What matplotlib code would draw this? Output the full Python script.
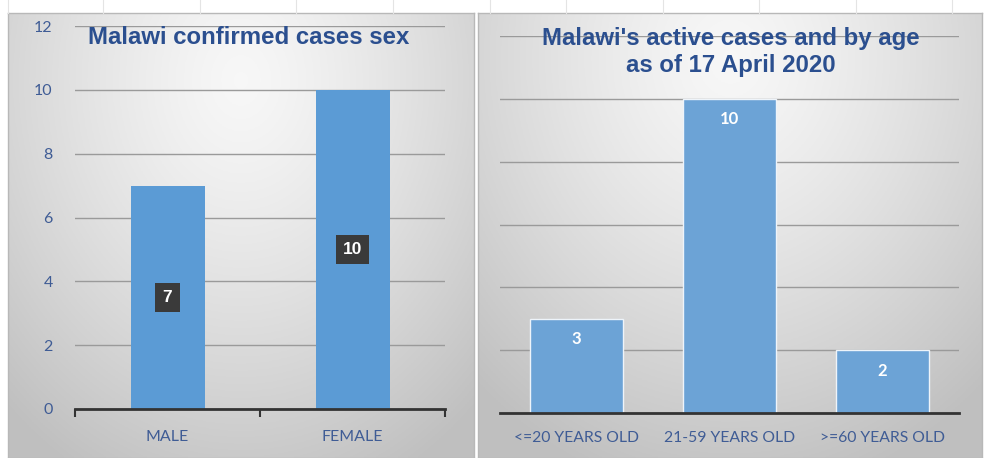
import matplotlib.pyplot as plt
import numpy as np

# data
sex_labels = ["MALE", "FEMALE"]
sex_cases = [7, 10]
age_labels = ["<=20 YEARS OLD", "21-59 YEARS OLD", ">=60 YEARS OLD"]
age_cases = [3, 10, 2]

title_left = "Malawi confirmed cases sex"
title_right = "Malawi's active cases and by age\nas of 17 April 2020"

W, H = 986, 458
title_color = "#2B4F8F"
tick_color = "#3F5C95"
bar_left = "#5B9BD5"
bar_right = "#6CA3D6"


def px_axes(fig, x0, y0, x1, y1, **kw):
    # pixel box (top-left origin) -> figure axes
    return fig.add_axes([x0 / W, (H - y1) / H, (x1 - x0) / W, (y1 - y0) / H], **kw)


def chart_background(fig, x0, y0, x1, y1, cx, cy):
    bg = px_axes(fig, x0, y0, x1, y1)
    ny, nx = 200, 200
    xx, yy = np.meshgrid(np.linspace(0, 1, nx), np.linspace(0, 1, ny))
    r = np.sqrt(((xx - cx) / 0.75) ** 2 + ((yy - cy) / 1.0) ** 2)
    r = np.clip(r, 0, 1)
    val = 0.97 - 0.22 * r ** 1.3
    img = np.dstack([val, val, val])
    bg.imshow(img, extent=[0, 1, 0, 1], origin="upper", aspect="auto", zorder=0)
    bg.set_xlim(0, 1)
    bg.set_ylim(0, 1)
    bg.set_xticks([])
    bg.set_yticks([])
    for s in bg.spines.values():
        s.set_color("#b8b8b8")
        s.set_linewidth(1)
    return bg


fig = plt.figure(figsize=(W / 100, H / 100), dpi=100)
fig.patch.set_facecolor("white")

# faint spreadsheet cells behind
for xc in [8, 103, 200, 296, 393, 490, 566, 663, 759, 856, 952]:
    fig.add_artist(plt.Line2D([xc / W, xc / W], [1, 1 - 13 / H], color="#e4e4e4", lw=0.8))

chart_background(fig, 8, 13, 474, 458, 0.5, 0.15)
chart_background(fig, 478, 13, 982, 458, 0.5, 0.1)

# ---- left chart ----
ax1 = px_axes(fig, 75, 26, 445, 409)
ax1.patch.set_alpha(0)
x1 = np.arange(len(sex_labels)) + 0.5
ax1.bar(x1, sex_cases, width=0.4, color=bar_left, zorder=3)
ax1.set_xlim(0, 2)
ax1.set_ylim(0, 12)
ax1.set_yticks(range(0, 13, 2))
ax1.grid(axis="y", color="#9a9a9a", linewidth=1, zorder=1)
ax1.set_xticks(x1)
ax1.set_xticklabels(sex_labels, fontfamily="Lato", fontsize=11.5, color=tick_color)
ax1.set_xticks([0, 1, 2], minor=True)
ax1.tick_params(axis="x", which="major", length=0, pad=15)
ax1.tick_params(axis="x", which="minor", length=6, width=1.5, color="#333333", direction="out")
ax1.tick_params(axis="y", length=0, pad=16, labelsize=11.5, labelcolor=tick_color)
for lab in ax1.get_yticklabels():
    lab.set_fontfamily("Lato")
for s in ["top", "right", "left"]:
    ax1.spines[s].set_visible(False)
ax1.spines["bottom"].set_color("#333333")
ax1.spines["bottom"].set_linewidth(2)
ax1.spines["bottom"].set_zorder(4)
for xi, v in zip(x1, sex_cases):
    ax1.text(xi, v / 2, str(v), ha="center", va="center", color="white",
             fontsize=12.5, fontweight="bold", fontfamily="Liberation Sans", zorder=5,
             bbox=dict(boxstyle="square,pad=0.42", fc="#3a3a3a", ec="none"))
fig.text(249 / W, 1 - 37 / H, title_left, ha="center", va="center", fontsize=17.3,
         fontweight="bold", color=title_color, fontfamily="Liberation Sans")

# ---- right chart ----
ax2 = px_axes(fig, 500, 36, 959, 413)
ax2.patch.set_alpha(0)
x2 = np.arange(len(age_labels)) + 0.5
ax2.bar(x2, age_cases, width=0.61, color=bar_right, edgecolor="#eef4fa", linewidth=1, zorder=3)
ax2.set_xlim(0, 3)
ax2.set_ylim(0, 12)
ax2.set_yticks(range(0, 13, 2))
ax2.set_yticklabels([])
ax2.grid(axis="y", color="#9a9a9a", linewidth=1, zorder=1)
ax2.set_xticks(x2)
ax2.set_xticklabels(age_labels, fontfamily="Lato", fontsize=11.3, color=tick_color)
ax2.tick_params(axis="x", length=0, pad=13)
ax2.tick_params(axis="y", length=0)
for s in ["top", "right", "left"]:
    ax2.spines[s].set_visible(False)
ax2.spines["bottom"].set_color("#333333")
ax2.spines["bottom"].set_linewidth(2)
ax2.spines["bottom"].set_zorder(4)
for xi, v in zip(x2, age_cases):
    ax2.text(xi, v - 0.65, str(v), ha="center", va="center", color="white",
             fontsize=12, fontweight="bold", fontfamily="Lato", zorder=5)
fig.text(731 / W, 1 - 52 / H, title_right, ha="center", va="center", fontsize=17.3,
         fontweight="bold", color=title_color, fontfamily="Liberation Sans", linespacing=1.25)

fig.savefig("out.png", dpi=100)
